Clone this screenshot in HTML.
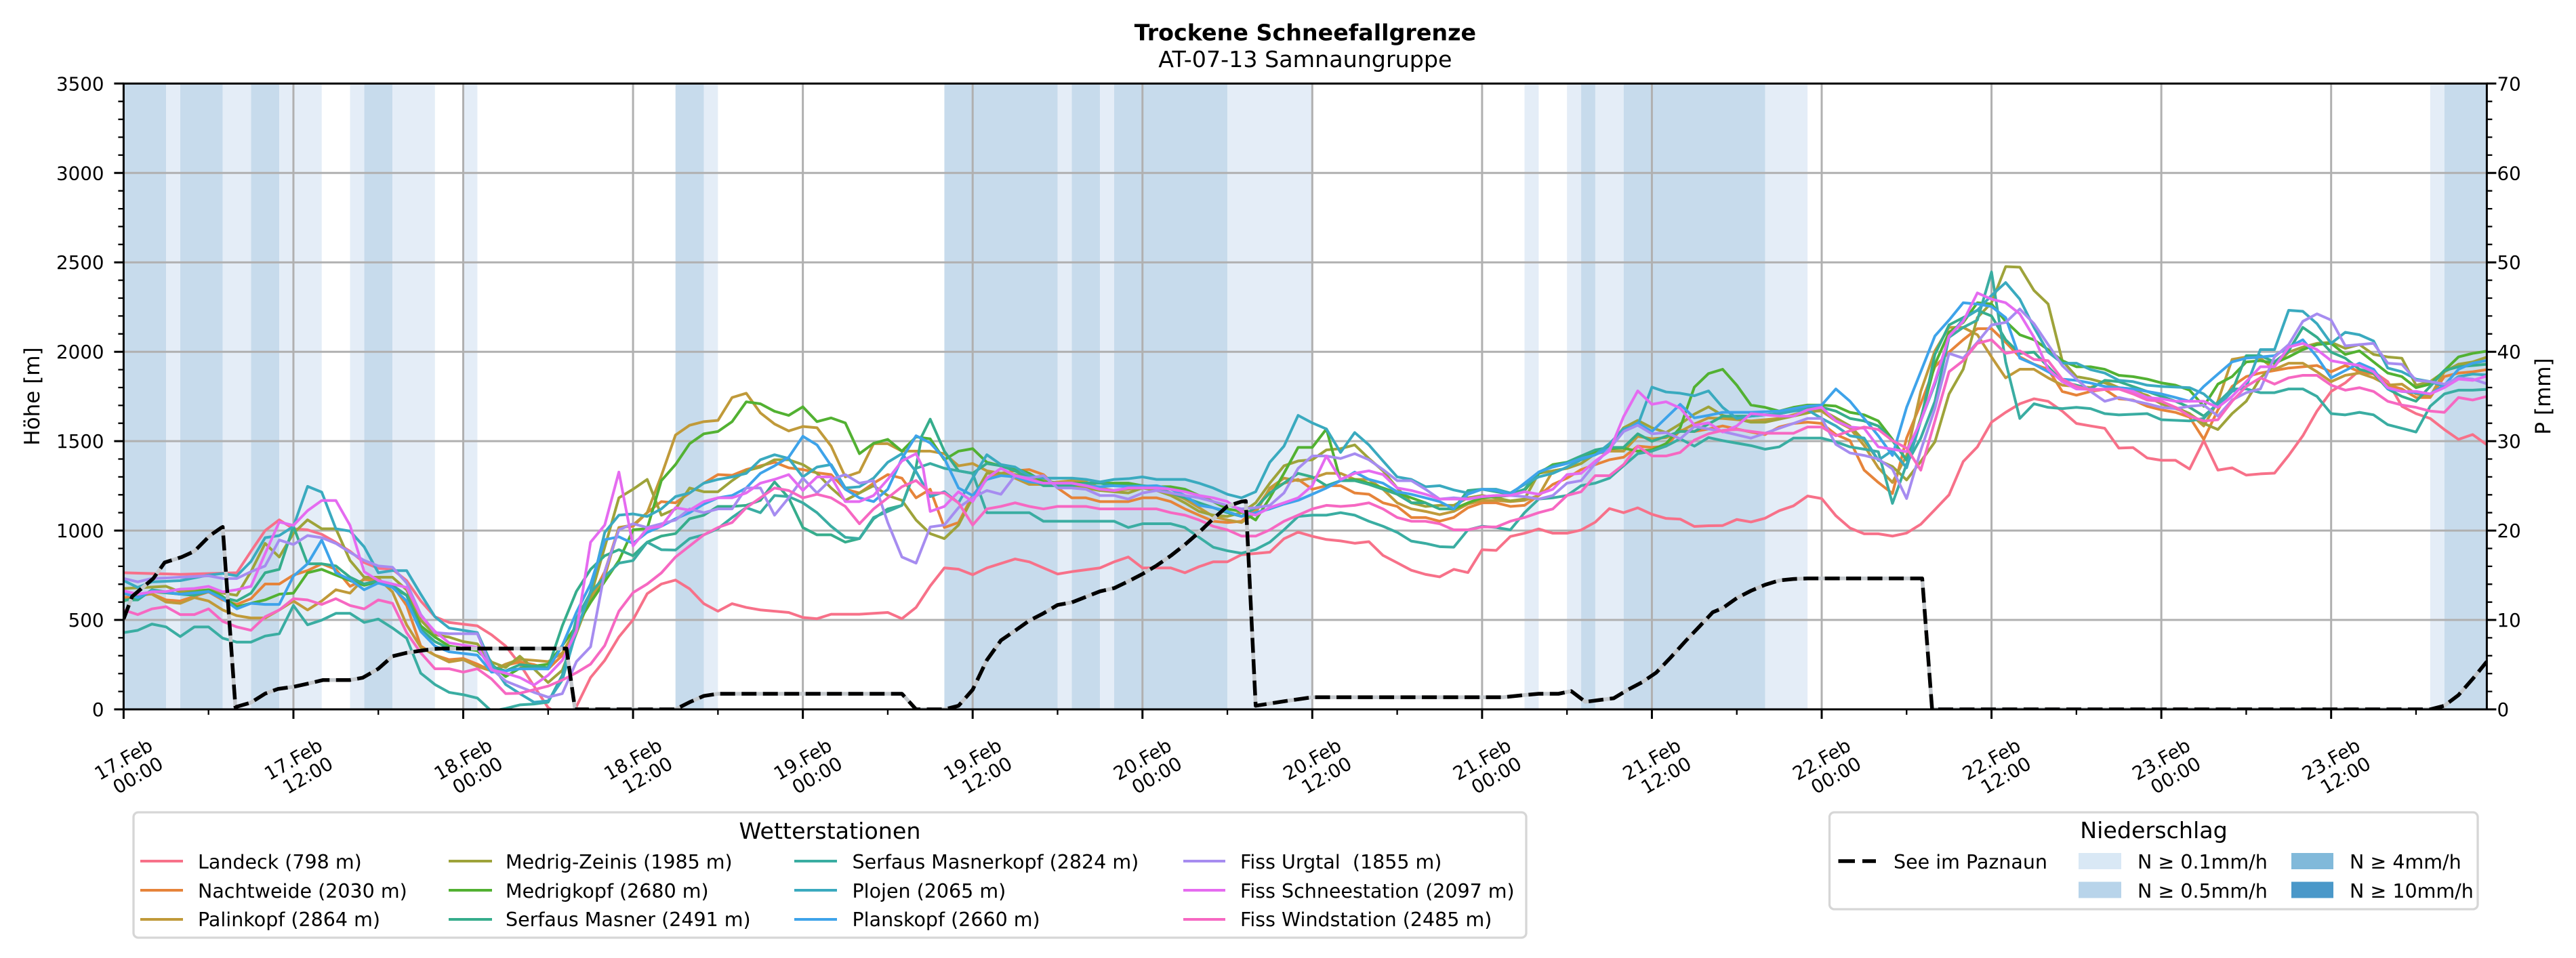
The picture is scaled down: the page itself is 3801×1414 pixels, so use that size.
<!DOCTYPE html>
<html><head><meta charset="utf-8">
<style>
html,body{margin:0;padding:0;background:#fff;}
svg{display:block;}
.s{fill:none;stroke-width:4;stroke-linejoin:round;stroke-linecap:round;vector-effect:non-scaling-stroke;}
text{font-family:"DejaVu Sans","Liberation Sans",sans-serif;fill:#000;}
.tk{font-size:27.7px;}
.lg{font-size:28.5px;white-space:pre;}
.tt{font-size:33.3px;}
</style></head>
<body>
<svg width="3801" height="1414" viewBox="0 0 3801 1414" xmlns="http://www.w3.org/2000/svg">
<rect width="3801" height="1414" fill="#fff"/>
<defs><clipPath id="ax"><rect x="182.4" y="123.3" width="3487" height="923.7"/></clipPath></defs>

<g clip-path="url(#ax)">
<!-- precipitation bands -->
<g transform="matrix(20.88 0 0 1 182.4 0)">
<g fill="#c7dbec">
<rect x="0" y="123.3" width="3" height="923.7"/>
<rect x="4" y="123.3" width="3" height="923.7"/>
<rect x="9" y="123.3" width="2" height="923.7"/>
<rect x="17" y="123.3" width="2" height="923.7"/>
<rect x="39" y="123.3" width="2" height="923.7"/>
<rect x="58" y="123.3" width="8" height="923.7"/>
<rect x="67" y="123.3" width="2" height="923.7"/>
<rect x="70" y="123.3" width="8" height="923.7"/>
<rect x="103" y="123.3" width="1" height="923.7"/>
<rect x="106" y="123.3" width="10" height="923.7"/>
<rect x="164" y="123.3" width="3" height="923.7"/>
</g>
<g fill="#e4edf7">
<rect x="3" y="123.3" width="1" height="923.7"/>
<rect x="7" y="123.3" width="2" height="923.7"/>
<rect x="11" y="123.3" width="3" height="923.7"/>
<rect x="16" y="123.3" width="1" height="923.7"/>
<rect x="19" y="123.3" width="3" height="923.7"/>
<rect x="24" y="123.3" width="1" height="923.7"/>
<rect x="41" y="123.3" width="1" height="923.7"/>
<rect x="66" y="123.3" width="1" height="923.7"/>
<rect x="69" y="123.3" width="1" height="923.7"/>
<rect x="78" y="123.3" width="6" height="923.7"/>
<rect x="99" y="123.3" width="1" height="923.7"/>
<rect x="102" y="123.3" width="1" height="923.7"/>
<rect x="104" y="123.3" width="2" height="923.7"/>
<rect x="116" y="123.3" width="3" height="923.7"/>
<rect x="163" y="123.3" width="1" height="923.7"/>
</g>
</g>

<!-- grid -->
<path stroke="#b0b0b0" stroke-width="3" fill="none" d="
M182.4 915.0H3669.4 M182.4 783.1H3669.4 M182.4 651.1H3669.4 M182.4 519.2H3669.4 M182.4 387.2H3669.4 M182.4 255.3H3669.4 M182.4 123.3H3669.4
M432.96 123.3V1047 M683.52 123.3V1047 M934.08 123.3V1047 M1184.64 123.3V1047 M1435.2 123.3V1047 M1685.76 123.3V1047 M1936.32 123.3V1047
M2186.88 123.3V1047 M2437.44 123.3V1047 M2688.0 123.3V1047 M2938.56 123.3V1047 M3189.12 123.3V1047 M3439.68 123.3V1047"/>

<!-- station series -->
<g transform="matrix(20.88 0 0 -0.26391 182.4 1047)">
<polyline class="s" stroke="#f77189" points="0,764 4,755 8,764 9,884 10,1000 11,1060 12,1010 13,1004 14,979 15,934 16,884 17,821 18,789 19,783 20,720 21,606 22,518 23,486 25,467 26,417 27,354 28,253 29,130 30,10 31,-40 31.9,0 33,178 34,274 35,405 36,501 37,647 38,701 39,723 40,674 41,591 42,549 43,591 44,570 45,556 47,542 48,514 49,507 50,532 52,532 54,542 55,507 56,570 57,690 58,791 59,784 60,753 61,791 63,841 64,825 66,757 67,770 69,791 70,825 71,852 72,791 74,791 75,764 76,798 77,825 78,825 79,865 81,879 82,954 83,991 84,968 85,950 86,942 87,929 88,938 89,861 90,820 91,778 92,755 93,741 94,783 95,765 96,893 97,889 98,967 99,985 100,1009 101,985 102,985 103,1003 104,1047 105,1123 106,1100 107,1127 108,1091 109,1068 110,1064 111,1023 112,1027 113,1028 114,1062 115,1048 116,1069 117,1111 118,1138 119,1193 120,1179 121,1083 122,1014 123,982 124,982 125,969 126,986 127,1035 128,1117 129,1200 130,1386 131,1468 132,1606 133,1661 134,1709 135,1737 136,1723 137,1668 138,1599 139,1585 140,1572 141,1461 142,1464 143,1406 144,1393 145,1393 146,1344 147,1503 148,1338 149,1351 150,1310 151,1317 152,1321 153,1420 154,1530 155,1668 156,1778 157,1826 158,1895 159,1888 160,1833 161,1695 162,1654 163,1627 164,1565 165,1510 166,1537 167,1480"/>
<polyline class="s" stroke="#e6843a" points="0,625 2,646 3,612 4,606 6,657 7,612 8,587 9,619 10,701 11,701 12,751 13,776 14,814 15,783 16,688 17,726 18,720 19,694 20,581 21,354 22,303 23,278 24,284 25,253 26,215 27,246 28,265 29,250 30,226 31,302 32,453 33,618 34,770 35,1017 36,1024 37,1100 38,1162 39,1155 40,1210 41,1265 42,1313 43,1309 44,1341 45,1362 46,1382 47,1351 48,1341 49,1323 50,1313 51,1231 52,1210 53,1265 54,1313 55,1293 56,1183 57,1231 58,1017 59,1045 60,1196 61,1293 62,1320 63,1334 64,1341 65,1313 66,1238 67,1183 68,1183 69,1162 70,1162 71,1162 72,1183 73,1183 74,1162 75,1121 76,1086 77,1052 78,1045 79,1052 80,1121 81,1231 82,1265 83,1286 84,1231 85,1251 86,1251 87,1210 88,1203 89,1155 90,1135 91,1073 92,1073 93,1052 94,1073 95,1128 96,1155 97,1155 98,1135 99,1141 100,1196 101,1258 102,1293 103,1341 104,1369 105,1396 106,1410 107,1472 108,1465 109,1472 110,1561 111,1554 112,1568 113,1585 115,1551 116,1537 117,1579 118,1599 119,1606 120,1599 121,1537 122,1503 123,1338 124,1269 125,1207 126,1517 127,1709 128,1916 129,1998 130,2067 131,2129 132,2129 133,2053 134,1971 135,1930 136,1902 137,1778 138,1757 139,1778 140,1790 141,1737 142,1730 143,1695 144,1675 145,1661 146,1634 147,1510 148,1675 149,1806 150,1861 151,1881 152,1895 153,1909 154,1916 155,1923 156,1888 157,1923 158,1888 159,1875 160,1813 161,1792 162,1744 163,1744 164,1861 165,1881 166,1888 167,1900"/>
<polyline class="s" stroke="#c09a3a" points="0,644 2,644 3,600 4,593 5,625 6,606 7,556 8,524 9,511 10,511 11,556 12,606 13,556 14,606 15,669 16,650 17,732 18,732 19,657 20,473 21,347 22,303 23,265 24,278 25,240 26,215 27,253 28,280 29,274 30,267 31,315 32,453 33,618 34,742 35,1017 36,1031 37,1100 38,1307 39,1534 40,1589 41,1609 42,1616 43,1744 44,1768 45,1658 46,1596 47,1557 48,1582 49,1575 50,1472 51,1300 52,1327 53,1486 54,1486 55,1444 57,1444 58,1430 59,1362 60,1375 61,1334 62,1320 63,1293 64,1258 65,1258 66,1272 67,1279 68,1272 69,1238 70,1224 71,1231 72,1238 73,1238 74,1210 75,1176 76,1128 77,1079 78,1059 79,1045 80,1100 81,1238 82,1293 83,1279 84,1293 85,1320 86,1320 87,1286 88,1286 89,1231 90,1155 91,1121 92,1107 93,1089 94,1107 95,1148 96,1169 97,1169 98,1162 99,1169 100,1196 101,1334 102,1348 103,1375 104,1430 105,1444 106,1444 107,1527 108,1513 109,1520 110,1554 111,1596 112,1630 113,1627 115,1613 117,1627 119,1668 120,1668 121,1613 122,1572 123,1475 124,1351 125,1269 126,1420 127,1778 128,2005 129,2136 130,2136 131,2095 132,1971 133,1854 134,1902 135,1902 136,1854 137,1813 138,1806 139,1800 140,1833 141,1799 143,1757 144,1709 145,1682 146,1654 147,1585 148,1723 149,1957 150,1971 151,1964 152,1902 153,1936 154,1936 155,1888 156,1833 157,1868 158,1881 159,1854 160,1813 161,1819 162,1764 163,1750 164,1888 165,1930 166,1936 167,1950"/>
<polyline class="s" stroke="#9ea33a" points="0,676 2,684 3,688 4,657 5,663 6,669 7,650 8,638 9,770 10,928 11,852 12,985 13,1060 14,1010 15,1010 16,833 17,739 19,739 20,669 21,499 22,417 23,404 24,379 25,366 26,265 27,234 28,297 29,226 30,150 31,219 32,426 33,632 34,907 35,1183 36,1231 37,1286 38,1086 39,1121 40,1238 41,1217 42,1217 43,1279 44,1334 45,1355 46,1396 47,1396 48,1369 49,1320 50,1238 51,1169 52,1210 53,1251 54,1196 55,1169 56,1059 57,983 58,955 59,1031 60,1183 61,1320 62,1320 63,1313 64,1293 65,1279 66,1265 67,1251 68,1238 69,1224 70,1217 71,1210 72,1238 73,1224 74,1196 75,1155 76,1107 77,1086 78,1079 79,1100 80,1155 81,1265 82,1362 83,1389 84,1396 85,1451 86,1458 87,1479 88,1403 89,1334 90,1238 91,1155 92,1135 93,1141 94,1141 95,1183 96,1196 97,1183 98,1166 99,1176 100,1320 101,1334 102,1348 103,1375 104,1430 105,1472 106,1575 107,1616 108,1575 109,1548 110,1596 111,1651 112,1692 113,1644 115,1606 116,1606 118,1640 120,1675 122,1585 123,1503 124,1393 125,1358 126,1283 127,1386 128,1496 129,1764 130,1902 131,2191 132,2274 133,2476 134,2473 135,2343 136,2267 137,1950 138,1861 139,1847 140,1826 141,1799 142,1792 143,1750 144,1709 145,1689 146,1654 147,1599 148,1565 149,1654 150,1723 151,1854 152,1923 153,1998 154,2026 155,2047 156,2053 157,2019 158,2040 159,1985 160,1971 161,1964 162,1813 163,1833 164,1888 165,1930 166,1943 167,1970"/>
<polyline class="s" stroke="#52b132" points="0,606 2,659 4,644 6,669 7,631 8,574 9,593 10,612 11,644 12,650 13,764 14,783 15,751 16,720 17,694 18,713 19,682 20,638 21,467 22,404 23,354 25,328 26,253 27,183 28,230 30,253 31,357 32,467 33,598 34,715 35,832 36,1004 37,1011 38,1279 39,1369 40,1486 41,1541 42,1554 43,1609 44,1720 45,1709 46,1667 47,1644 48,1692 49,1609 50,1630 51,1602 52,1430 53,1488 54,1510 55,1444 56,1524 57,1513 58,1396 59,1444 60,1458 61,1382 62,1362 63,1348 64,1320 65,1272 66,1265 71,1265 72,1251 73,1245 74,1245 75,1231 76,1196 77,1162 78,1121 79,1107 80,1059 81,1183 82,1320 83,1465 84,1465 85,1568 86,1279 87,1286 88,1265 89,1238 90,1210 91,1183 92,1155 93,1121 94,1121 95,1155 96,1183 97,1190 98,1196 99,1224 100,1320 101,1369 102,1382 103,1417 104,1437 105,1458 106,1461 107,1444 108,1451 109,1486 110,1575 111,1802 112,1878 113,1902 114,1813 115,1702 116,1689 117,1668 118,1689 119,1702 120,1702 121,1696 122,1661 123,1647 124,1613 125,1510 126,1393 127,1627 128,1930 129,2109 130,2164 131,2274 132,2267 133,2170 134,2095 135,2067 136,2012 137,1950 138,1916 139,1916 140,1902 141,1868 142,1861 143,1847 144,1826 145,1813 146,1785 147,1695 148,1819 149,1861 150,1943 151,1950 152,1936 153,1971 154,2012 155,2040 156,2047 157,1985 158,2005 159,1943 160,1881 161,1861 162,1799 163,1819 164,1895 165,1971 166,1991 167,2003"/>
<polyline class="s" stroke="#36ad8c" points="0,612 1,612 2,669 4,644 5,638 6,659 7,625 8,606 9,650 10,764 11,783 12,1023 13,814 14,814 15,802 16,739 17,701 18,720 19,694 20,638 21,448 22,379 23,341 25,341 26,240 27,215 28,250 30,233 31,467 32,660 33,783 34,859 35,893 36,859 37,935 38,969 39,983 40,1066 41,1086 42,1135 43,1135 44,1141 45,1169 46,1272 47,1183 48,1017 49,976 50,976 51,935 52,955 53,1066 54,1121 55,1141 56,1355 56.4,1527 57,1623 58,1444 59,1334 60,1320 61,1375 62,1362 63,1334 64,1293 65,1251 67,1251 68,1265 69,1265 70,1251 72,1251 73,1238 74,1210 75,1183 76,1155 77,1128 78,1100 79,1079 80,1128 81,1210 82,1265 83,1320 84,1300 85,1251 86,1279 87,1279 88,1258 89,1231 90,1203 91,1155 92,1155 93,1121 94,1121 95,1224 96,1231 97,1217 98,1203 99,1231 100,1327 101,1362 102,1382 103,1417 104,1451 105,1465 106,1465 107,1541 108,1499 109,1527 110,1554 111,1554 112,1596 113,1640 115,1640 117,1654 119,1682 120,1689 121,1668 122,1627 123,1613 124,1585 125,1503 126,1393 127,1613 128,1985 129,2150 130,2191 131,2232 132,2200 133,2067 134,1990 135,1998 136,1916 137,1833 138,1813 139,1792 140,1840 141,1833 143,1778 145,1723 146,1689 147,1640 148,1709 149,1778 150,1978 151,1978 152,1943 153,2005 154,2136 155,2081 156,1998 157,1964 158,1902 159,1881 160,1792 161,1750 162,1723 163,1806 164,1895 165,1916 166,1923 167,1930"/>
<polyline class="s" stroke="#3aada2" points="0,429 1,442 2,477 3,461 4,407 5,461 6,461 7,398 8,376 9,376 10,410 11,423 12,581 13,473 14,499 15,537 16,537 17,486 18,505 19,455 20,398 21,202 22,139 23,95 24,82 25,63 26,-10 27,5 28,25 29,30 30,40 31,191 32,508 33,653 34,742 35,818 36,832 37,935 38,893 39,891 40,955 41,976 42,1011 43,1073 44,1128 45,1100 46,1196 47,1190 48,1155 49,1100 50,1024 51,962 52,955 53,1073 54,1107 55,1141 56,1348 57,1375 58,1348 59,1334 60,1320 61,1100 64,1100 65,1052 70,1052 71,1017 72,1038 74,1038 75,1017 76,962 77,907 78,887 79,873 80,894 81,935 82,1004 83,1079 84,1086 85,1086 86,1100 87,1086 88,1052 89,1024 90,990 91,941 92,928 93,910 94,907 95,1004 96,1024 97,1017 98,1004 99,1100 100,1176 101,1183 102,1196 103,1251 104,1265 105,1293 106,1362 107,1430 108,1444 109,1472 110,1513 111,1472 112,1520 113,1503 115,1475 116,1455 117,1468 118,1517 120,1517 121,1496 122,1468 123,1455 124,1441 125,1152 126,1372 127,1517 128,1723 129,2081 130,2136 131,2177 132,2446 133,1943 134,1627 135,1709 136,1689 137,1682 138,1689 139,1682 140,1654 141,1647 143,1654 144,1620 146,1613 147,1627 148,1716 149,1792 150,1792 151,1771 152,1771 153,1792 154,1792 155,1750 156,1654 157,1647 158,1661 159,1647 160,1592 161,1572 162,1551 163,1695 164,1764 165,1785 166,1785 167,1790"/>
<polyline class="s" stroke="#3aaabf" points="0,720 1,682 2,713 4,720 6,751 7,760 8,747 9,827 10,960 11,972 12,1023 13,1247 14,1215 15,1010 16,997 17,909 18,764 19,776 20,776 21,644 22,518 23,455 25,429 26,253 27,139 28,88 29,40 30,47 31,164 32,439 33,660 34,990 35,1086 36,1093 37,1079 38,1121 39,1190 40,1210 41,1265 42,1286 43,1300 44,1320 45,1396 46,1424 47,1403 48,1300 49,1355 50,1369 51,1238 52,1245 53,1293 54,1382 55,1430 56,1330 57,1190 58,1217 59,1155 60,1293 61,1424 62,1369 63,1355 64,1307 65,1293 67,1293 68,1286 69,1272 70,1286 71,1290 72,1300 73,1286 75,1286 76,1265 77,1238 78,1203 79,1183 80,1217 81,1382 82,1472 83,1644 84,1602 85,1568 86,1437 87,1548 88,1479 89,1389 90,1300 91,1286 92,1245 93,1251 94,1227 95,1210 96,1231 97,1231 98,1210 99,1258 100,1300 101,1320 102,1355 103,1396 104,1424 105,1486 106,1568 107,1589 108,1802 109,1775 110,1768 111,1754 112,1781 113,1689 114,1627 115,1640 117,1654 118,1668 119,1675 120,1627 121,1585 122,1530 123,1517 124,1393 125,1448 126,1351 127,1613 128,1820 129,2081 130,2184 131,2232 132,2315 133,2387 134,2294 135,2136 136,1998 137,1936 138,1936 139,1900 140,1881 141,1840 142,1833 143,1813 144,1806 146,1799 147,1764 148,1695 149,1778 150,1806 151,2012 152,2012 153,2232 154,2226 155,2157 156,2047 157,2109 158,2095 159,2060 160,1909 161,1888 162,1847 163,1833 164,1806 165,1861 166,1875 167,1870"/>
<polyline class="s" stroke="#3ea3ea" points="0,650 1,625 2,663 4,644 6,659 7,619 8,562 9,593 10,587 11,587 12,745 13,814 14,947 15,764 16,726 17,669 18,707 19,682 20,606 21,436 22,354 23,322 25,303 26,208 27,215 28,227 30,226 31,357 32,543 33,701 34,949 35,965 36,928 37,990 38,1024 39,1066 40,1100 41,1148 42,1183 43,1196 44,1238 45,1320 46,1362 47,1410 48,1527 49,1479 50,1362 51,1231 52,1183 53,1162 54,1231 55,1403 56,1530 57,1490 58,1403 59,1238 60,1196 61,1286 62,1307 63,1300 64,1272 65,1265 67,1265 68,1251 69,1245 70,1251 71,1245 73,1251 74,1231 75,1196 76,1141 77,1128 78,1107 79,1079 80,1100 81,1121 82,1148 83,1169 84,1203 85,1238 86,1279 87,1327 88,1286 89,1265 90,1217 91,1203 92,1183 93,1162 94,1121 95,1203 96,1231 97,1224 98,1203 99,1265 100,1327 101,1355 102,1375 103,1403 104,1424 105,1458 106,1554 107,1602 108,1554 109,1630 110,1706 111,1630 112,1644 113,1661 115,1661 117,1668 119,1696 120,1702 121,1792 122,1723 123,1627 124,1530 125,1420 126,1689 127,1888 128,2088 129,2177 130,2274 131,2267 132,2253 133,2191 134,1964 135,1930 136,1888 137,1847 138,1840 139,1825 140,1806 141,1799 142,1792 143,1778 144,1764 145,1744 146,1723 147,1806 148,1875 149,1943 150,1964 151,1971 152,1978 153,2026 154,2067 155,1971 156,1854 157,1895 158,1936 159,1902 160,1792 161,1778 162,1771 163,1764 164,1813 165,1902 166,1936 167,1951"/>
<polyline class="s" stroke="#a68cf0" points="0,732 1,713 2,732 4,739 6,747 7,732 8,732 9,770 10,802 11,947 12,922 13,972 14,960 15,928 16,878 17,833 18,802 19,795 20,707 21,530 22,429 23,423 25,423 26,227 27,158 28,126 29,95 30,68 31,88 32,267 33,350 34,770 35,1004 36,1038 37,1017 38,1038 39,1059 40,1121 41,1100 42,1121 43,1121 44,1238 45,1238 46,1086 47,1183 48,1293 49,1210 50,1286 51,1313 52,1265 53,1279 54,1045 55,852 56,818 57,1020 58,1031 59,1128 60,1183 61,1224 62,1203 63,1307 64,1293 65,1307 66,1238 67,1238 68,1231 69,1196 70,1196 71,1176 72,1210 73,1224 74,1210 75,1196 76,1183 77,1162 78,1141 79,1121 80,1128 81,1141 82,1210 83,1348 84,1417 85,1417 86,1403 87,1430 88,1396 89,1341 90,1279 91,1279 92,1231 93,1176 94,1183 95,1176 96,1190 97,1196 98,1196 99,1190 100,1176 101,1196 102,1265 103,1279 104,1375 105,1458 106,1554 107,1589 108,1541 109,1548 110,1513 111,1582 112,1568 113,1554 115,1517 117,1572 118,1599 119,1627 120,1627 121,1482 122,1434 123,1420 124,1400 125,1344 126,1179 127,1448 128,1682 129,1991 130,1964 131,2053 132,2150 133,2164 134,2239 135,2157 136,2040 137,1923 138,1847 139,1778 140,1723 141,1744 143,1709 144,1689 145,1682 146,1695 147,1702 148,1640 149,1730 150,1771 151,1792 152,1971 153,2040 154,2170 155,2212 156,2177 157,2033 158,2040 159,2047 160,1936 161,1930 162,1840 163,1833 164,1819 165,1854 166,1847 167,1821"/>
<polyline class="s" stroke="#e56bf0" points="0,663 1,644 2,657 3,659 4,672 5,676 6,688 7,657 8,669 9,688 10,871 11,1048 12,1029 13,1111 14,1168 15,1168 16,1029 17,770 18,720 19,701 20,682 21,524 22,436 23,372 25,347 26,221 27,202 28,178 29,136 30,191 31,274 32,439 33,935 34,1031 35,1327 36,914 37,1011 38,1024 39,1128 40,1114 41,1162 42,1183 43,1183 44,1210 45,1265 46,1286 47,1313 48,1224 49,1300 50,1300 51,1162 52,1162 53,1196 54,1286 55,1389 56,1430 56.5,1348 57,1107 58,1135 59,1217 60,1162 61,1293 62,1348 63,1307 64,1286 65,1265 67,1265 68,1251 69,1231 70,1224 71,1238 73,1238 74,1231 75,1217 76,1196 77,1183 78,1162 79,1107 80,1086 81,1128 82,1155 83,1183 84,1251 85,1417 86,1286 87,1320 88,1334 89,1313 90,1238 91,1224 92,1203 93,1176 95,1176 96,1190 97,1196 98,1196 99,1217 100,1203 101,1231 102,1313 103,1320 104,1389 105,1444 106,1637 107,1781 108,1706 109,1720 110,1685 111,1589 112,1602 113,1551 114,1585 115,1654 117,1640 118,1640 119,1675 120,1689 121,1613 122,1579 123,1572 124,1468 125,1455 126,1441 127,1613 128,1833 129,2088 130,2170 131,2329 132,2294 133,2274 134,2212 135,2081 136,1902 137,1833 138,1792 139,1790 141,1792 142,1778 143,1744 144,1737 145,1723 147,1723 148,1689 149,1750 150,1833 151,1916 152,1916 153,2026 154,2047 155,2012 156,1950 157,1936 158,1923 159,1888 160,1799 161,1778 162,1778 163,1764 164,1799 165,1847 166,1840 167,1864"/>
<polyline class="s" stroke="#f668c2" points="0,556 1,530 2,562 3,574 4,530 5,530 6,562 7,492 8,461 9,442 10,518 11,556 12,619 13,612 14,587 15,619 16,581 17,562 18,612 19,593 20,429 21,316 22,227 23,227 24,208 25,227 26,170 27,88 28,90 30,130 31,164 32,205 33,253 34,357 35,549 36,653 37,701 38,763 39,852 40,914 41,976 42,1017 43,1045 44,1128 45,1183 46,1238 47,1224 48,1183 49,1203 50,1183 51,1135 52,1038 53,1121 54,1183 55,1245 56,1280 57,1210 58,1210 59,1155 60,1031 61,1121 62,1135 63,1155 64,1135 65,1121 66,1135 68,1135 69,1121 73,1121 74,1100 75,1086 76,1059 77,1024 78,1004 79,969 80,969 81,1004 82,1052 83,1086 84,1121 85,1141 86,1135 87,1141 88,1155 89,1121 90,1073 91,1052 92,1052 93,1038 94,1004 95,1004 96,1020 97,1020 98,1052 99,1073 100,1100 101,1121 102,1196 103,1217 104,1307 105,1307 106,1369 107,1472 108,1417 109,1417 110,1437 111,1506 112,1541 113,1560 114,1565 116,1544 118,1544 119,1579 120,1579 121,1530 122,1558 123,1579 124,1565 125,1503 126,1461 127,1338 128,1613 129,1888 130,1950 131,2047 132,2067 133,1991 134,2005 135,1957 136,1950 137,1847 138,1806 139,1785 141,1792 142,1764 143,1730 144,1723 145,1689 146,1640 147,1613 148,1620 149,1723 150,1806 151,1854 152,1819 153,1854 154,1868 155,1868 156,1813 157,1785 158,1799 159,1778 160,1723 161,1702 162,1689 163,1668 164,1661 165,1744 166,1730 167,1750"/>
</g>

<!-- See im Paznaun dashed line (pixel coords) -->
<g fill="none" stroke-width="5.5" stroke-linejoin="round">
<polyline id="see" stroke="#c4c8cc" points="182.4,913.7 194.9,880.5 226.2,853.8 242.9,830.3 268.0,822.2 286.8,813.7 309.8,790.5 326.5,778.9 328.6,777.8 347.4,1043.6 370.3,1037.0 391.2,1023.8 410.0,1016.9 433.0,1013.7 455.9,1008.7 476.8,1003.7 516.5,1003.7 535.3,1000.3 558.2,987.1 579.1,968.6 600.0,963.6 620.9,960.4 639.7,957.8 652.2,957.3 835.9,957.3 848.5,1047 996.7,1047 1017.6,1036.4 1038.5,1027.2 1059.4,1024.0 1330.8,1024.0 1351.7,1047 1393.4,1047 1414.3,1041.7 1435.2,1018.0 1456.1,974.4 1477.0,945.1 1497.8,930.9 1518.7,916.1 1539.6,905.3 1560.5,892.9 1581.4,889.2 1623.1,872.8 1644.0,868.1 1664.9,858.0 1685.8,847.2 1706.6,834.8 1727.5,820.3 1748.4,803.9 1769.3,785.7 1790.2,765.7 1811.0,747.2 1831.9,740.3 1838.2,739.5 1852.8,1041.7 1894.6,1035.1 1936.3,1029.1 2218.2,1029.1 2249.5,1025.9 2270.4,1024.0 2299.6,1024.0 2318.4,1020.1 2339.3,1035.9 2381.1,1030.6 2402.0,1018.0 2422.8,1007.1 2443.7,992.9 2464.6,971.0 2487.6,945.7 2508.4,923.8 2527.2,903.7 2541.8,897.6 2562.7,882.8 2583.6,872.0 2604.5,863.1 2625.4,856.7 2646.2,854.6 2667.1,853.8 2836.3,853.8 2850.9,1047 3585.8,1047 3606.7,1041.7 3627.6,1025.9 3648.5,1002.1 3669.4,976.5"/>
<polyline stroke="#000" stroke-dasharray="22 9.5" points="182.4,913.7 194.9,880.5 226.2,853.8 242.9,830.3 268.0,822.2 286.8,813.7 309.8,790.5 326.5,778.9 328.6,777.8 347.4,1043.6 370.3,1037.0 391.2,1023.8 410.0,1016.9 433.0,1013.7 455.9,1008.7 476.8,1003.7 516.5,1003.7 535.3,1000.3 558.2,987.1 579.1,968.6 600.0,963.6 620.9,960.4 639.7,957.8 652.2,957.3 835.9,957.3 848.5,1047 996.7,1047 1017.6,1036.4 1038.5,1027.2 1059.4,1024.0 1330.8,1024.0 1351.7,1047 1393.4,1047 1414.3,1041.7 1435.2,1018.0 1456.1,974.4 1477.0,945.1 1497.8,930.9 1518.7,916.1 1539.6,905.3 1560.5,892.9 1581.4,889.2 1623.1,872.8 1644.0,868.1 1664.9,858.0 1685.8,847.2 1706.6,834.8 1727.5,820.3 1748.4,803.9 1769.3,785.7 1790.2,765.7 1811.0,747.2 1831.9,740.3 1838.2,739.5 1852.8,1041.7 1894.6,1035.1 1936.3,1029.1 2218.2,1029.1 2249.5,1025.9 2270.4,1024.0 2299.6,1024.0 2318.4,1020.1 2339.3,1035.9 2381.1,1030.6 2402.0,1018.0 2422.8,1007.1 2443.7,992.9 2464.6,971.0 2487.6,945.7 2508.4,923.8 2527.2,903.7 2541.8,897.6 2562.7,882.8 2583.6,872.0 2604.5,863.1 2625.4,856.7 2646.2,854.6 2667.1,853.8 2836.3,853.8 2850.9,1047 3585.8,1047 3606.7,1041.7 3627.6,1025.9 3648.5,1002.1 3669.4,976.5"/>
</g>
</g>

<!-- spines -->
<rect x="182.4" y="123.3" width="3487" height="923.7" fill="none" stroke="#000" stroke-width="3"/>

<!-- major ticks -->
<path stroke="#000" stroke-width="3" fill="none" d="
M182.4 1047h-14 M182.4 915.0h-14 M182.4 783.1h-14 M182.4 651.1h-14 M182.4 519.2h-14 M182.4 387.2h-14 M182.4 255.3h-14 M182.4 123.3h-14
M3669.4 1047h14 M3669.4 915.0h14 M3669.4 783.1h14 M3669.4 651.1h14 M3669.4 519.2h14 M3669.4 387.2h14 M3669.4 255.3h14 M3669.4 123.3h14
M182.4 1047v14 M432.96 1047v14 M683.52 1047v14 M934.08 1047v14 M1184.64 1047v14 M1435.2 1047v14 M1685.76 1047v14 M1936.32 1047v14 M2186.88 1047v14 M2437.44 1047v14 M2688.0 1047v14 M2938.56 1047v14 M3189.12 1047v14 M3439.68 1047v14"/>
<!-- minor ticks -->
<path stroke="#000" stroke-width="2.3" fill="none" d="
M182.4 1020.6h-8 M182.4 994.2h-8 M182.4 967.8h-8 M182.4 941.4h-8 M182.4 888.7h-8 M182.4 862.3h-8 M182.4 835.9h-8 M182.4 809.5h-8 M182.4 756.7h-8 M182.4 730.3h-8 M182.4 703.9h-8 M182.4 677.5h-8 M182.4 624.7h-8 M182.4 598.4h-8 M182.4 572.0h-8 M182.4 545.6h-8 M182.4 492.8h-8 M182.4 466.4h-8 M182.4 440.0h-8 M182.4 413.6h-8 M182.4 360.8h-8 M182.4 334.4h-8 M182.4 308.1h-8 M182.4 281.7h-8 M182.4 228.9h-8 M182.4 202.5h-8 M182.4 176.1h-8 M182.4 149.7h-8
M3669.4 1020.6h8 M3669.4 994.2h8 M3669.4 967.8h8 M3669.4 941.4h8 M3669.4 888.7h8 M3669.4 862.3h8 M3669.4 835.9h8 M3669.4 809.5h8 M3669.4 756.7h8 M3669.4 730.3h8 M3669.4 703.9h8 M3669.4 677.5h8 M3669.4 624.7h8 M3669.4 598.4h8 M3669.4 572.0h8 M3669.4 545.6h8 M3669.4 492.8h8 M3669.4 466.4h8 M3669.4 440.0h8 M3669.4 413.6h8 M3669.4 360.8h8 M3669.4 334.4h8 M3669.4 308.1h8 M3669.4 281.7h8 M3669.4 228.9h8 M3669.4 202.5h8 M3669.4 176.1h8 M3669.4 149.7h8
M307.68 1047v8 M558.24 1047v8 M808.8 1047v8 M1059.36 1047v8 M1309.92 1047v8 M1560.48 1047v8 M1811.04 1047v8 M2061.6 1047v8 M2312.16 1047v8 M2562.72 1047v8 M2813.28 1047v8 M3063.84 1047v8 M3314.4 1047v8 M3564.96 1047v8"/>

<!-- y tick labels left -->
<g class="tk" text-anchor="end">
<text x="153.5" y="1057" class="tk">0</text>
<text x="153.5" y="925" class="tk">500</text>
<text x="153.5" y="793.1" class="tk">1000</text>
<text x="153.5" y="661.1" class="tk">1500</text>
<text x="153.5" y="529.2" class="tk">2000</text>
<text x="153.5" y="397.2" class="tk">2500</text>
<text x="153.5" y="265.3" class="tk">3000</text>
<text x="153.5" y="133.3" class="tk">3500</text>
</g>
<!-- y tick labels right -->
<g class="tk">
<text x="3684.5" y="1057" class="tk">0</text>
<text x="3684.5" y="925" class="tk">10</text>
<text x="3684.5" y="793.1" class="tk">20</text>
<text x="3684.5" y="661.1" class="tk">30</text>
<text x="3684.5" y="529.2" class="tk">40</text>
<text x="3684.5" y="397.2" class="tk">50</text>
<text x="3684.5" y="265.3" class="tk">60</text>
<text x="3684.5" y="133.3" class="tk">70</text>
</g>

<!-- x tick labels -->
<g text-anchor="end">
<text class="tk" transform="translate(227.4,1106) rotate(-30)"><tspan x="0" y="0">17.Feb</tspan><tspan x="0" y="31">00:00</tspan></text>
<text class="tk" transform="translate(478.0,1106) rotate(-30)"><tspan x="0" y="0">17.Feb</tspan><tspan x="0" y="31">12:00</tspan></text>
<text class="tk" transform="translate(728.5,1106) rotate(-30)"><tspan x="0" y="0">18.Feb</tspan><tspan x="0" y="31">00:00</tspan></text>
<text class="tk" transform="translate(979.1,1106) rotate(-30)"><tspan x="0" y="0">18.Feb</tspan><tspan x="0" y="31">12:00</tspan></text>
<text class="tk" transform="translate(1229.6,1106) rotate(-30)"><tspan x="0" y="0">19.Feb</tspan><tspan x="0" y="31">00:00</tspan></text>
<text class="tk" transform="translate(1480.2,1106) rotate(-30)"><tspan x="0" y="0">19.Feb</tspan><tspan x="0" y="31">12:00</tspan></text>
<text class="tk" transform="translate(1730.8,1106) rotate(-30)"><tspan x="0" y="0">20.Feb</tspan><tspan x="0" y="31">00:00</tspan></text>
<text class="tk" transform="translate(1981.3,1106) rotate(-30)"><tspan x="0" y="0">20.Feb</tspan><tspan x="0" y="31">12:00</tspan></text>
<text class="tk" transform="translate(2231.9,1106) rotate(-30)"><tspan x="0" y="0">21.Feb</tspan><tspan x="0" y="31">00:00</tspan></text>
<text class="tk" transform="translate(2482.4,1106) rotate(-30)"><tspan x="0" y="0">21.Feb</tspan><tspan x="0" y="31">12:00</tspan></text>
<text class="tk" transform="translate(2733.0,1106) rotate(-30)"><tspan x="0" y="0">22.Feb</tspan><tspan x="0" y="31">00:00</tspan></text>
<text class="tk" transform="translate(2983.6,1106) rotate(-30)"><tspan x="0" y="0">22.Feb</tspan><tspan x="0" y="31">12:00</tspan></text>
<text class="tk" transform="translate(3234.1,1106) rotate(-30)"><tspan x="0" y="0">23.Feb</tspan><tspan x="0" y="31">00:00</tspan></text>
<text class="tk" transform="translate(3484.7,1106) rotate(-30)"><tspan x="0" y="0">23.Feb</tspan><tspan x="0" y="31">12:00</tspan></text>
</g>

<!-- axis labels -->
<text transform="translate(58,585) rotate(-90)" text-anchor="middle" style="font-size:31px">Höhe [m]</text>
<text transform="translate(3763,585) rotate(-90)" text-anchor="middle" style="font-size:31px">P [mm]</text>

<!-- title -->
<text x="1925.9" y="59.3" text-anchor="middle" class="tt" style="font-weight:bold">Trockene Schneefallgrenze</text>
<text x="1925.9" y="99" text-anchor="middle" class="tt">AT-07-13 Samnaungruppe</text>

<!-- legend: Wetterstationen -->
<rect x="197" y="1199" width="2055" height="185" rx="7" ry="7" fill="#fff" stroke="#d6d6d6" stroke-width="3.3"/>
<text x="1224.5" y="1238" text-anchor="middle" class="tt">Wetterstationen</text>
<g stroke-width="4" stroke-linecap="square">
<line x1="209" y1="1271" x2="268" y2="1271" stroke="#f77189"/>
<line x1="209" y1="1314" x2="268" y2="1314" stroke="#e6843a"/>
<line x1="209" y1="1357" x2="268" y2="1357" stroke="#c09a3a"/>
<line x1="664" y1="1271" x2="724" y2="1271" stroke="#9ea33a"/>
<line x1="664" y1="1314" x2="724" y2="1314" stroke="#52b132"/>
<line x1="664" y1="1357" x2="724" y2="1357" stroke="#36ad8c"/>
<line x1="1174" y1="1271" x2="1233" y2="1271" stroke="#3aada2"/>
<line x1="1174" y1="1314" x2="1233" y2="1314" stroke="#3aaabf"/>
<line x1="1174" y1="1357" x2="1233" y2="1357" stroke="#3ea3ea"/>
<line x1="1748" y1="1271" x2="1806" y2="1271" stroke="#a68cf0"/>
<line x1="1748" y1="1314" x2="1806" y2="1314" stroke="#e56bf0"/>
<line x1="1748" y1="1357" x2="1806" y2="1357" stroke="#f668c2"/>
</g>
<text x="292" y="1282" class="lg">Landeck (798 m)</text>
<text x="292" y="1325" class="lg">Nachtweide (2030 m)</text>
<text x="292" y="1367" class="lg">Palinkopf (2864 m)</text>
<text x="746" y="1282" class="lg">Medrig-Zeinis (1985 m)</text>
<text x="746" y="1325" class="lg">Medrigkopf (2680 m)</text>
<text x="746" y="1367" class="lg">Serfaus Masner (2491 m)</text>
<text x="1257.5" y="1282" class="lg">Serfaus Masnerkopf (2824 m)</text>
<text x="1257.5" y="1325" class="lg">Plojen (2065 m)</text>
<text x="1257.5" y="1367" class="lg">Planskopf (2660 m)</text>
<text x="1830" y="1282" class="lg">Fiss Urgtal  (1855 m)</text>
<text x="1830" y="1325" class="lg">Fiss Schneestation (2097 m)</text>
<text x="1830" y="1367" class="lg">Fiss Windstation (2485 m)</text>

<!-- legend: Niederschlag -->
<rect x="2699.5" y="1199" width="956.5" height="143" rx="7" ry="7" fill="#fff" stroke="#d6d6d6" stroke-width="3.3"/>
<text x="3178" y="1237" text-anchor="middle" class="tt">Niederschlag</text>
<g stroke="#000" stroke-width="5.5">
<line x1="2712.5" y1="1271" x2="2737" y2="1271"/>
<line x1="2748" y1="1271" x2="2768" y2="1271"/>
</g>
<text x="2794" y="1282" class="lg">See im Paznaun</text>
<rect x="3067" y="1259" width="63" height="24" fill="#d9e8f5"/>
<rect x="3067" y="1301.5" width="63" height="24" fill="#b8d4ea"/>
<rect x="3381" y="1259" width="62" height="24" fill="#81b9da"/>
<rect x="3381" y="1301.5" width="62" height="24" fill="#4a98c9"/>
<text x="3154" y="1282" class="lg">N ≥ 0.1mm/h</text>
<text x="3154" y="1325" class="lg">N ≥ 0.5mm/h</text>
<text x="3467" y="1282" class="lg">N ≥ 4mm/h</text>
<text x="3467" y="1325" class="lg">N ≥ 10mm/h</text>
</svg>
</body></html>
